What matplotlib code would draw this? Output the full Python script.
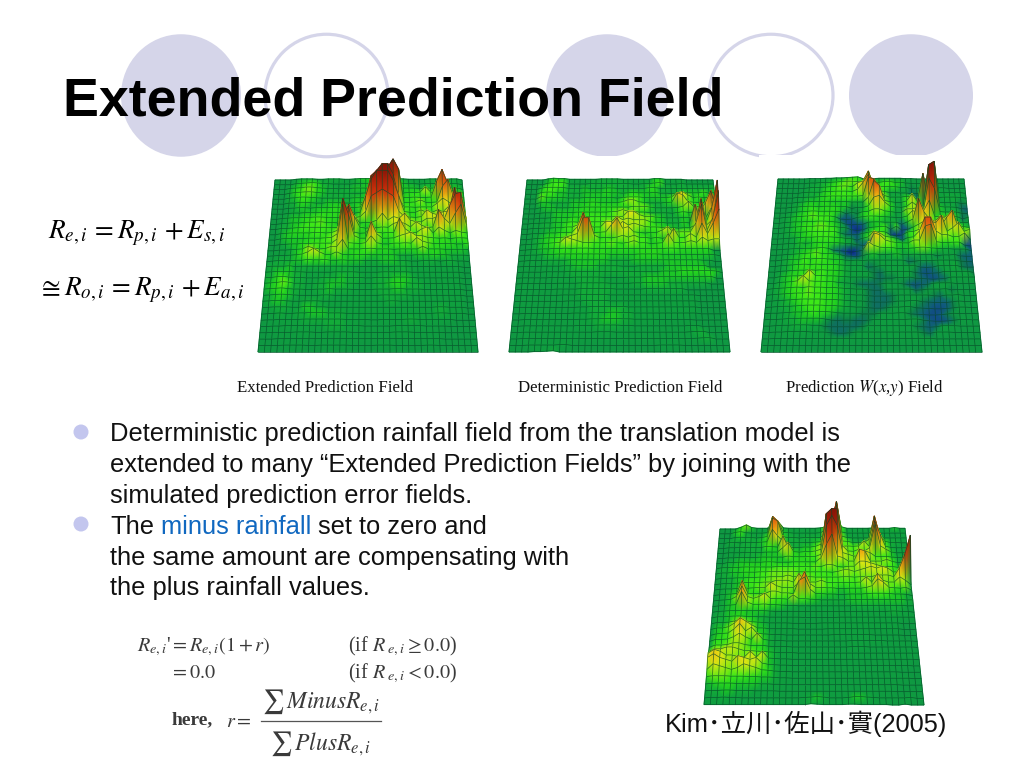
import numpy as np
import matplotlib
matplotlib.use("Agg")
import matplotlib.pyplot as plt
from matplotlib.patches import Ellipse, Rectangle, Circle
from matplotlib.colors import LinearSegmentedColormap, Normalize

TITLE = "Extended Prediction Field"
CAPTIONS = ["Extended Prediction Field", "Deterministic Prediction Field", "Prediction $W$($x$,$y$) Field"]
BULLET_1 = ["Deterministic prediction rainfall field from the translation model is",
            "extended to many \u201cExtended Prediction Fields\u201d by joining with the",
            "simulated prediction error fields."]
BULLET_2 = ["the same amount are compensating with", "the plus rainfall values."]
CITATION = "Kim\uff65\u7acb\u5ddd\uff65\u4f50\u5c71\uff65\u5be6(2005)"

# Heights, one character per grid node, back row first.
# '.' = 0, 1-9, a-z = 10-35, A-G = -1 to -7.
FIELD_EXTENDED = [
 "....2333223332234443334432222332233.",
 "....3456533222233444335543323333333.",
 "...34577543323344444465544434444444",
 "...3567754333333343355544556a6544554",
 "...34665433333344469jp96556556gnf554",
 "...335543344433445ajrrwq5568556gka54",
 "...23443444555446cpswwqc6656669ca665",
 "...23344455554435gqvvvpg75585587a776",
 "..234455665554447ajlnlja7657b98aao5",
 "..234456675545aa4558c8a9c87799a8gno9",
 "..334566666557kd6445769a97a857hc9fk8",
 "..34555566568gm745a7566f9669a5a85875",
 "..34444555679tk855g955689a8876564665",
 "..23445566669t7657b7446676a875555446",
 "..22345875688c5556755545555855544443",
 ".1223468a855854555444443334445443332",
 ".2333446556445444333444332233323322",
 "2333423333333332222222333222222222",
 "2344433222223333222233333222222222",
 "3356433222333433322333444322222222",
 "3457633223344433222334554332222222",
 "3456433223343332222333443332222222",
 "2345432222332222222233333222222222",
 "2344322333222222222223322222222222",
 "1233322443322222222222222222233222",
 ".123223344433322222222222222233222",
 ".1122223333333222211222233222222",
 "..11222222233322211111222221111",
 "..1111222112222111111122211111",
 "...111111111111111111111111111",
 "....1111..11111....111.....11",
 "....",
]
FIELD_DETERMINISTIC = [
 "....35442222223333222222442222",
 "....46662222333333332233562223222222",
 "...4666533343334433333355333333333343",
 "...5664433344445443454445332344446343",
 "...75544333444444346664444469a8464444",
 "...4433334445544446886433345cb654443",
 "...344333445555555557775333347a6654a6",
 "...233444455555567877553333246455cj7",
 "...2234445556666677aa8775433344464cp9",
 "..223344565666677a8988864433353h46fv",
 "..2233446687666aa6a8987665443448n8bsr",
 "..22344556ai8567bf9a754558a6777cn8fu",
 "..234556789ii85657878664645c6697f9fn",
 ".1234567a98776667657866456c76787a8997",
 ".123445565666555555555555566555555",
 ".1223445555555554444455554444444443",
 ".122233334444444333344444444444433",
 ".11122223344443333222333334444444",
 ".1111222233333333333333334445555554",
 ".111112222333332222333444444444445",
 ".11111122223333322223344443333333",
 ".1111112222333333222223333333",
 ".111111122233333222222222222222",
 ".111111112223333222222222222222",
 ".111111111122333333222222222222",
 "..11111111222333443322222222222",
 "..1111111112233444332222111111",
 "..11111111122233332211111111122",
 "..111111111111222111111111111233",
 "..1111111111111111111111111111233",
 "...1111122..............1111",
 "....1123...",
]
FIELD_PREDICTION = [
 "......11122334561212222211..",
 "......2233456776644466442111111",
 "......2334567759ag5665533A112222",
 ".....23335566658ch6752211BA12222222",
 "....2233456666667iha733354C22223332",
 "....23444544443339jg74226b5n532222A",
 "...23455455544A226cd95325953vx4332BC",
 "...2345655554B2A458864228897qk4333AB",
 "..2345676664CDC2466543226a8ag54664B22",
 "..23445566542CEDC344333C48kc86a873222",
 "..234566776532DFD2456B6EC48a9a7cg5534",
 "..23445666662BCC14665DFD5688ccg79c78A",
 "..1234556665421C26a9752C46aiia88679BD",
 "..1224345555432ACEcb8754488gh75566CEF",
 "..123344564BCEGEAa87664345775433222CD",
 "..12345675542BCDA342234223222A112BCC",
 "..2344656654421212222222BA1112222ABCB",
 "..234565655543222BA2222222BCB2223ABB",
 "..2345565655432221AB12222ACDCB22222A",
 "..34556a6655432222ABAA112ABCDCB22222",
 "..3457a76655321ABBBA111ACDCB1222",
 ".2345657665543211ABB11111BA1112A",
 ".2345667665543211ABBBA111111AB112",
 ".1234566665543211ABBBA1122ABCCCA1",
 ".1233456665543211ABBA1122ABCDDCA11",
 ".112344565542111AAA11122ABCDDCA1",
 ".1123344442ABAABBA11111122ACDDCA11",
 "..12233322ABBBBBA11111111ABCB111",
 "..112222111ABBA11111111111AB111",
 "..11111111111111111111111111",
 "..........",
 "....",
]
FIELD_CITED = [
 "....584222" "6a32222223" "6586222223" "222422",
 "...4632223" "gd43222223" "89p5222224" "222222",
 "...3433236" "ig53323333" "9jq7322226" "322222",
 "..33233345" "ea63333345" "bep763328m" "a63322",
 "..22333336" "54d3334468" "mn96767a6m" "e63222",
 "..22233334" "449c545578" "twwa76869n" "a84222",
 "..22333344" "4447555668" "pvp9876a96" "664322",
 "..33444445" "5444555559" "hna977ed77" "786322",
 ".334455555" "5666666676" "886577aa98" "766430",
 ".334455566" "7777766666" "65788789a9" "a965a3",
 ".233445566" "7778777766" "6667767778" "887ckv",
 ".233456667" "78887c7778" "6666667a7c" "877a8.",
 ".233455677" "a8777ag977" "664455578c" "a7657",
 ".2345e6555" "88775eg955" "4433444566" "65443",
 ".2348e878a" "7665966543" "3333444444" "444433",
 ".2345e8667" "5543322222" "2222233333" "333322",
 ".2344544443222222222222222222223322",
 ".33455443322222211111122222222222222",
 ".33478754322221111122222222222222",
 ".4479ca84422222111112222222222222",
 ".4569c8a5432211111111222222211111",
 ".5568a85a53221111111111122222211111",
 ".6678875553222111111111122211111111",
 "588998776543222111111111111111111111",
 "9ba8877a7a4322111111111111111111111",
 "aca98ba9a7432211111111111111111111",
 "7a9878a9865322111111111111111111",
 "5777666554432211111111111111111111",
 "34555444433221111111111111111111",
 "2334433322221111111111111111111",
 "1223221111111111234311124432111112",
 "111111111111111113211112211111..2",
]
CORNERS_EXTENDED = (275, 462, 258, 478, 180, 352)
CORNERS_DETERMINISTIC = (527, 713, 509, 730, 180, 352)
CORNERS_PREDICTION = (778, 964, 761, 982, 179, 352)
CORNERS_CITED = (720, 905, 704, 924, 529, 705)

CMAP_VMIN, CMAP_VMAX = -7.0, 35.0
stops = [(-7, "#0a1490"), (-5, "#123a90"), (-3, "#10607a"), (-1, "#0e8048"), (0, "#0f9a42"),
         (2, "#0f9f3e"), (3, "#14ad38"), (4.5, "#1fd020"), (6, "#3ce818"), (8, "#9ae812"),
         (10, "#e6e414"), (14, "#f09a10"), (19, "#d83a0c"), (27, "#a81c08"), (35, "#701006")]
CMAP = LinearSegmentedColormap.from_list(
    "relief", [((v - CMAP_VMIN) / (CMAP_VMAX - CMAP_VMIN), c) for v, c in stops])
NORM = Normalize(CMAP_VMIN, CMAP_VMAX)
N_COLS = 36
LAVENDER = "#D5D5E9"


def decode(rows):
    def val(ch):
        if ch == ".":
            return 0
        if ch.isdigit():
            return int(ch)
        if ch.isupper():
            return -(ord(ch) - ord("A") + 1)
        return ord(ch) - ord("a") + 10
    return np.array([[val(c) for c in r.ljust(N_COLS, ".")[:N_COLS]] for r in rows], float)


def draw_field(ax, rows, corners, z0, unit=1.65):
    Z = decode(rows)
    xbl, xbr, xfl, xfr, yb, yf = corners
    nr, nc = Z.shape
    wb, wf = xbr - xbl, xfr - xfl
    t = np.linspace(0, 1, nr)
    w = 1 / (1 / wb + t * (1 / wf - 1 / wb))
    v = (w - wb) / (wf - wb)
    u = np.linspace(0, 1, nc)
    left = xbl + (xfl - xbl) * v
    X = np.outer(w, u) + left[:, None]
    H = np.interp(Z, [-7, 0, 7, 35], [-1.5, 0, 1.8, 35])
    Y = (yb + (yf - yb) * v)[:, None] - H * unit * (w / wf)[:, None]
    line = dict(color="#064a28", lw=0.5, alpha=0.8, solid_capstyle="butt")
    for i in range(nr - 1):
        z = z0 + i * 0.01
        ax.pcolormesh(X[i:i + 2], Y[i:i + 2], Z[i:i + 2], cmap=CMAP, norm=NORM,
                      shading="gouraud", zorder=z)
        ax.plot(X[i:i + 2], Y[i:i + 2], zorder=z + 0.001, **line)
        ax.plot(X[i], Y[i], zorder=z + 0.001, **line)
    ax.plot(X[-1], Y[-1], zorder=z0 + nr * 0.01, **line)


fig = plt.figure(figsize=(10.24, 7.68), dpi=100, facecolor="white")
ax = fig.add_axes([0, 0, 1, 1])
ax.set_xlim(0, 1024)
ax.set_ylim(768, 0)
ax.axis("off")
plt.rcParams["mathtext.fontset"] = "stix"

# Header circles
for x0, x1, filled in [(121, 241, True), (265, 388, False), (546, 668, True), (709, 833, False), (849, 973, True)]:
    ax.add_patch(Ellipse(((x0 + x1) / 2, 95.5), x1 - x0, 122.5,
                         fc=LAVENDER if filled else "none", ec=LAVENDER,
                         lw=0 if filled else 2.3, zorder=1))
ax.add_patch(Rectangle((540, 155.5), 135, 10, fc="white", ec="none", zorder=1.5))
ax.add_patch(Rectangle((759, 155), 265, 10, fc="white", ec="none", zorder=1.5))
ax.text(63, 115, TITLE, family="Liberation Sans", weight="bold", fontsize=38.7, color="black", zorder=5)

# Surfaces
draw_field(ax, FIELD_EXTENDED, CORNERS_EXTENDED, 2)
draw_field(ax, FIELD_DETERMINISTIC, CORNERS_DETERMINISTIC, 2)
draw_field(ax, FIELD_PREDICTION, CORNERS_PREDICTION, 2)
draw_field(ax, FIELD_CITED, CORNERS_CITED, 2)

# Captions
for x, s in zip([237, 518, 785], CAPTIONS):
    ax.text(x, 392, s, family="Liberation Serif", fontsize=12.2, color="#111111", zorder=5)

# Left equations
ax.text(48, 238, r"$R_{e,i}\,=R_{p,i}\,+E_{s,i}$", fontsize=19.5, zorder=5)
ax.text(38, 295, r"$\cong R_{o,i}\,=R_{p,i}\,+E_{a,i}$", fontsize=19.5, zorder=5)

# Bullets
body = dict(family="Liberation Sans", fontsize=18.4, color="#111111", zorder=5)
for y in (432, 524):
    ax.add_patch(Circle((81, y), 7.5, fc="#C3C6EE", ec="none", zorder=4))
for y, s in zip([441, 472, 503], BULLET_1):
    ax.text(110, y, s, **body)
ax.text(110, 534, "The", **body)
ax.text(161, 534, "minus rainfall", **{**body, "color": "#1068C0"})
ax.text(318, 534, "set to zero and", **body)
for y, s in zip([565, 595], BULLET_2):
    ax.text(110, y, s, **body)

# Lower equations
eq = dict(fontsize=14.5, color="#3a3a3a", zorder=5, family="Liberation Serif")
ax.text(137, 651, r"$R_{e,i}$'$=R_{e,i}(1+r)$", **eq)
ax.text(348, 651, r"(if $R_{\ e,i}\geq 0.0$)", **eq)
ax.text(170, 678, r"$=0.0$", **eq)
ax.text(348, 678, r"(if $R_{\ e,i}<0.0$)", **eq)
ax.text(172, 724, "here,", **{**eq, "fontsize": 14, "weight": "bold"})
ax.text(226, 727, r"$r=$", **eq)
ax.text(262, 708, r"$\sum\,MinusR_{e,i}$", **{**eq, "fontsize": 17})
ax.plot([261, 381], [721, 721], color="#555555", lw=0.9, zorder=5)
ax.text(270, 750, r"$\sum\,PlusR_{e,i}$", **{**eq, "fontsize": 17})

# Citation
ax.text(665, 732, CITATION, family=["Liberation Sans", "Noto Sans CJK JP"], fontsize=18.3,
        color="#111111", zorder=5)

fig.savefig("out.png", dpi=100, facecolor="white")
